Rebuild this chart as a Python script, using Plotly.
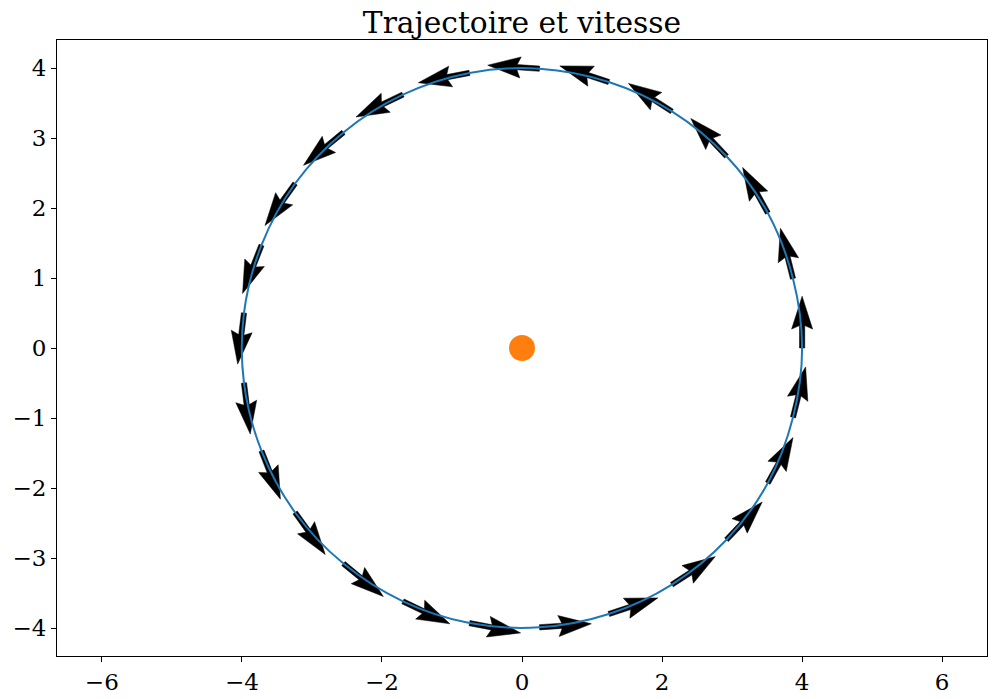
import numpy as np
import plotly.graph_objects as go

# Arrow tail positions on the trajectory
pos_x = [4.00, 3.87, 3.51, 2.92, 2.14, 1.24, 0.25, -0.75, -1.70, -2.55, -3.24, -3.72, -3.97,
         -3.97, -3.72, -3.24, -2.55, -1.70, -0.75, 0.25, 1.24, 2.14, 2.92, 3.51, 3.87]
pos_y = [0.00, 0.99, 1.93, 2.74, 3.38, 3.80, 3.99, 3.93, 3.62, 3.08, 2.35, 1.47, 0.50,
         -0.50, -1.47, -2.35, -3.08, -3.62, -3.93, -3.99, -3.80, -3.38, -2.74, -1.93, -0.99]
# Velocity components (arrow vectors, data units)
vel_x = [0.00, -0.18, -0.36, -0.51, -0.62, -0.70, -0.74, -0.73, -0.67, -0.57, -0.43, -0.27, -0.09,
         0.09, 0.27, 0.43, 0.57, 0.67, 0.73, 0.74, 0.70, 0.62, 0.51, 0.36, 0.18]
vel_y = [0.74, 0.72, 0.65, 0.54, 0.40, 0.23, 0.05, -0.14, -0.32, -0.47, -0.60, -0.69, -0.73,
         -0.73, -0.69, -0.60, -0.47, -0.32, -0.14, 0.05, 0.23, 0.40, 0.54, 0.65, 0.72]
# Central body
center_x = [0.0]
center_y = [0.0]

x_ticks = [-6, -4, -2, 0, 2, 4, 6]
y_ticks = [-4, -3, -2, -1, 0, 1, 2, 3, 4]

# arrow style (data units, equal aspect)
SHAFT_W = 0.075
HEAD_W = 0.30
HEAD_L = 0.47
HEAD_AX = 0.42

ax, ay = [], []
for x0, y0, u, v in zip(pos_x, pos_y, vel_x, vel_y):
    L = np.hypot(u, v)
    dx, dy = u / L, v / L
    nx, ny = -dy, dx
    def P(s, w):
        return x0 + dx * s + nx * w, y0 + dy * s + ny * w
    pts = [P(0, SHAFT_W / 2), P(L - HEAD_AX, SHAFT_W / 2), P(L - HEAD_L, HEAD_W / 2), P(L, 0),
           P(L - HEAD_L, -HEAD_W / 2), P(L - HEAD_AX, -SHAFT_W / 2), P(0, -SHAFT_W / 2), P(0, SHAFT_W / 2)]
    for px, py in pts:
        ax.append(px)
        ay.append(py)
    ax.append(None)
    ay.append(None)

fig = go.Figure()
fig.add_trace(go.Scatter(x=ax, y=ay, mode="lines", fill="toself", fillcolor="black",
                         line=dict(color="black", width=0.5), hoverinfo="skip", showlegend=False))
fig.add_trace(go.Scatter(x=pos_x + [pos_x[0]], y=pos_y + [pos_y[0]], mode="lines",
                         line=dict(color="#1f77b4", width=2, shape="spline", smoothing=1.0),
                         showlegend=False))
fig.add_trace(go.Scatter(x=center_x, y=center_y, mode="markers",
                         marker=dict(color="#ff7f0e", size=26, line=dict(width=0)),
                         showlegend=False))

axis_common = dict(showgrid=False, zeroline=False, showline=True, linecolor="black", linewidth=1,
                   mirror=True, ticks="outside", ticklen=5, tickwidth=1, tickcolor="black",
                   automargin=False,
                   tickfont=dict(family="DejaVu Serif", size=23, color="black"))
fig.update_xaxes(range=[-6.64, 6.64], tickvals=x_ticks, **axis_common)
fig.update_yaxes(range=[-4.4, 4.4], tickvals=y_ticks, **axis_common)

# page body has an 8px margin; figure sized so the plot lands where the reference has it
fig.update_layout(
    width=988, height=691,
    margin=dict(l=49, r=9, t=32, b=43, pad=0),
    plot_bgcolor="white", paper_bgcolor="white",
    title=dict(text="Trajectoire et vitesse", x=0.5, xref="paper", xanchor="center",
               y=1 - 4 / 691, yanchor="top", yref="container",
               font=dict(family="DejaVu Serif", size=29.7, color="black")),
)
fig.write_html("out.html")
